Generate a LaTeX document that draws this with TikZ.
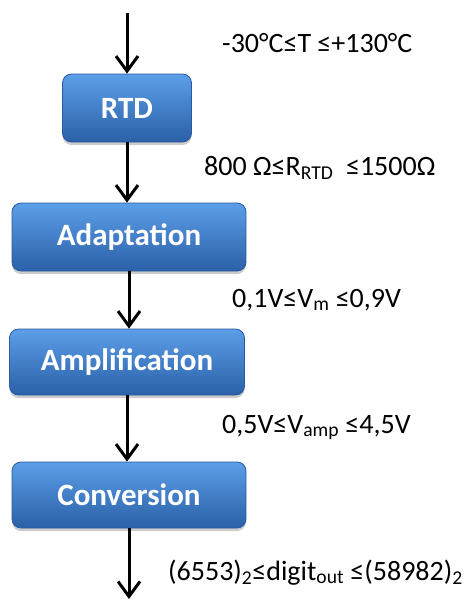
\documentclass[tikz,border=0pt]{standalone}
\usepackage{fontspec}
\setmainfont{Carlito}
\usetikzlibrary{arrows.meta,shadows}

\definecolor{blocktop}{RGB}{92,158,232}
\definecolor{blockbot}{RGB}{42,96,168}
\definecolor{blockline}{RGB}{40,90,160}

\begin{document}
\begin{tikzpicture}[
  x=1pt, y=-1pt,
  block/.style={draw=blockline, line width=0.8pt, rounded corners=9pt, top color=blocktop, bottom color=blockbot,
    text=white, font=\fontsize{31}{34}\selectfont\bfseries, inner sep=0pt,
    drop shadow={opacity=0.4, shadow xshift=0pt, shadow yshift=-3pt}},
  rangelabel/.style={anchor=base west, inner sep=0pt, font=\fontsize{28}{32}\selectfont},
  flow/.style={-{Straight Barb[length=15pt, width=22pt]}, line width=3pt}
]
\useasboundingbox (0,0) rectangle (476,603);

\coordinate (in) at (127,13);
\node[block, minimum width=129pt, minimum height=68pt] (rtd) at (127,108) {RTD};
\node[block, minimum width=234pt, minimum height=68pt] (adapt) at (129,237) {Adaptation};
\node[block, minimum width=235pt, minimum height=66pt] (ampli) at (127,362) {Amplification};
\node[block, minimum width=234pt, minimum height=66pt] (conv) at (129,495) {Conversion};
\coordinate (out) at (129,599);

\node[rangelabel] (temp) at (222,52) {-30°C≤T ≤+130°C};
\node[rangelabel] (resist) at (204,175) {800 Ω≤R\textsubscript{RTD} \ ≤1500Ω};
\node[rangelabel] (vm) at (232,307) {0,1V≤V\textsubscript{m} ≤0,9V};
\node[rangelabel] (vamp) at (222,433) {0,5V≤V\textsubscript{amp} ≤4,5V};
\node[rangelabel] (digit) at (168,580) {(6553)\textsubscript{2}≤digit\textsubscript{out} ≤(58982)\textsubscript{2}};

\draw[flow] (in) -- (rtd);
\draw[flow] (rtd) -- (rtd |- adapt.north);
\draw[flow] (adapt) -- (adapt |- ampli.north);
\draw[flow] (ampli) -- (ampli |- conv.north);
\draw[flow] (conv) -- (out);
\end{tikzpicture}
\end{document}
